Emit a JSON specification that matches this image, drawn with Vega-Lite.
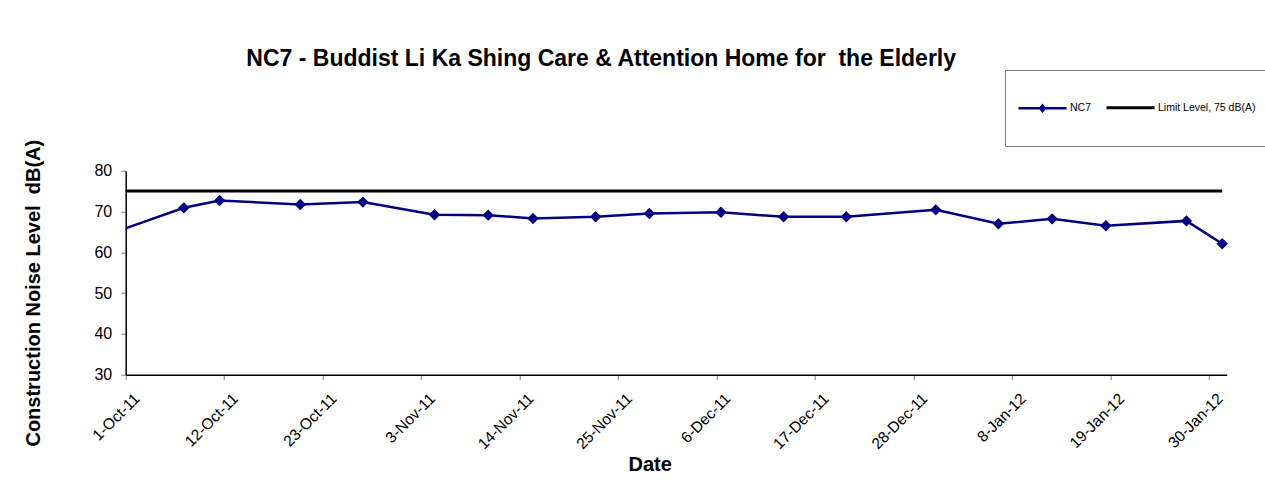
{
  "$schema": "https://vega.github.io/schema/vega-lite/v6.json",
  "autosize": "none",
  "width": 1101,
  "height": 204,
  "padding": {"left": 125.7, "top": 170.7, "right": 38.3, "bottom": 113.3},
  "background": "white",
  "config": {"font": "Liberation Sans", "view": {"stroke": null}},
  "title": {
    "text": "NC7 - Buddist Li Ka Shing Care & Attention Home for \u00a0the Elderly",
    "fontSize": 23, "fontWeight": "bold", "color": "black",
    "offset": -1, "dx": -75, "anchor": "middle"
  },
  "data": {
    "values": [
      {"series": "NC7", "date": "2011/09/30", "level": 65.5},
      {"series": "NC7", "date": "2011/10/07", "level": 70.9},
      {"series": "NC7", "date": "2011/10/11", "level": 72.7},
      {"series": "NC7", "date": "2011/10/20", "level": 71.7},
      {"series": "NC7", "date": "2011/10/27", "level": 72.3},
      {"series": "NC7", "date": "2011/11/04", "level": 69.2},
      {"series": "NC7", "date": "2011/11/10", "level": 69.1},
      {"series": "NC7", "date": "2011/11/15", "level": 68.3},
      {"series": "NC7", "date": "2011/11/22", "level": 68.7},
      {"series": "NC7", "date": "2011/11/28", "level": 69.5},
      {"series": "NC7", "date": "2011/12/06", "level": 69.8},
      {"series": "NC7", "date": "2011/12/13", "level": 68.7},
      {"series": "NC7", "date": "2011/12/20", "level": 68.7},
      {"series": "NC7", "date": "2011/12/30", "level": 70.4},
      {"series": "NC7", "date": "2012/01/06", "level": 67.0},
      {"series": "NC7", "date": "2012/01/12", "level": 68.2},
      {"series": "NC7", "date": "2012/01/18", "level": 66.5},
      {"series": "NC7", "date": "2012/01/27", "level": 67.7},
      {"series": "NC7", "date": "2012/01/31", "level": 62.1},
      {"series": "Limit Level, 75 dB(A)", "date": "2011/09/30", "level": 75},
      {"series": "Limit Level, 75 dB(A)", "date": "2012/01/31", "level": 75}
    ]
  },
  "layer": [
    {
      "mark": {"type": "line", "clip": true},
      "encoding": {
        "x": {
          "field": "date", "type": "temporal", "timeUnit": "yearmonthdate", "bandPosition": 0.5,
          "scale": {"domain": [{"year": 2011, "month": 10, "date": 1}, {"year": 2012, "month": 2, "date": 1}]},
          "axis": {
            "values": [
              {"year": 2011, "month": 10, "date": 1},
              {"year": 2011, "month": 10, "date": 12},
              {"year": 2011, "month": 10, "date": 23},
              {"year": 2011, "month": 11, "date": 3},
              {"year": 2011, "month": 11, "date": 14},
              {"year": 2011, "month": 11, "date": 25},
              {"year": 2011, "month": 12, "date": 6},
              {"year": 2011, "month": 12, "date": 17},
              {"year": 2011, "month": 12, "date": 28},
              {"year": 2012, "month": 1, "date": 8},
              {"year": 2012, "month": 1, "date": 19},
              {"year": 2012, "month": 1, "date": 30}
            ],
            "format": "%-d-%b-%y",
            "labelAngle": -45, "labelFontSize": 15.5, "labelColor": "black",
            "labelAlign": "right", "labelBaseline": "top", "labelPadding": 11, "labelOffset": 6,
            "tickColor": "#808080", "tickSize": 5, "domainColor": "black", "domainWidth": 1.5,
            "grid": false,
            "title": "Date", "titleFontSize": 20, "titleFontWeight": "bold", "titleColor": "black",
            "titleX": 524, "titleY": 90, "titleBaseline": "middle", "titleAlign": "center"
          }
        },
        "y": {
          "field": "level", "type": "quantitative",
          "scale": {"domain": [30, 80], "nice": false, "zero": false},
          "axis": {
            "values": [30, 40, 50, 60, 70, 80],
            "labelFontSize": 16, "labelColor": "black", "labelPadding": 9,
            "tickColor": "#808080", "tickSize": 5, "domainColor": "black", "domainWidth": 1.5,
            "grid": false,
            "title": "Construction Noise Level \u00a0dB(A)", "titleFontSize": 20, "titleFontWeight": "bold", "titleColor": "black",
            "titleAngle": -90, "titleX": -92, "titleY": 122, "titleAlign": "center", "titleBaseline": "middle"
          }
        },
        "color": {
          "field": "series", "type": "nominal",
          "scale": {"domain": ["NC7", "Limit Level, 75 dB(A)"], "range": ["#000080", "#000000"]},
          "legend": {
            "orient": "none", "legendX": 879.3, "legendY": -100.7,
            "direction": "horizontal", "title": null,
            "strokeColor": "#808080", "fillColor": "white", "padding": 12,
            "labelFontSize": 10.5, "labelColor": "black", "labelOffset": 2,
            "symbolSize": 2304, "symbolStrokeWidth": 2, "columnPadding": 8,
            "encode": {
              "symbols": {
                "update": {
                  "shape": {"signal": "datum.value === 'NC7' ? 'M0,-0.83M0,0.83M-1,0H1M-0.1,0L0,-0.12L0.1,0L0,0.12Z' : 'M0,-0.83M0,0.83M-1,0H1'"},
                  "fill": {"signal": "datum.value === 'NC7' ? '#000080' : 'transparent'"}
                }
              }
            }
          }
        },
        "strokeWidth": {
          "field": "series", "type": "nominal",
          "scale": {"domain": ["NC7", "Limit Level, 75 dB(A)"], "range": [2.5, 3]},
          "legend": null
        }
      }
    },
    {
      "transform": [
        {"filter": {"and": [
          {"field": "series", "equal": "NC7"},
          {"field": "date", "gte": {"year": 2011, "month": 10, "date": 1}}
        ]}}
      ],
      "mark": {"type": "point", "shape": "diamond", "filled": true, "size": 130, "color": "#000080", "opacity": 1},
      "encoding": {
        "x": {"field": "date", "type": "temporal", "timeUnit": "yearmonthdate", "bandPosition": 0.5},
        "y": {"field": "level", "type": "quantitative"}
      }
    }
  ]
}
